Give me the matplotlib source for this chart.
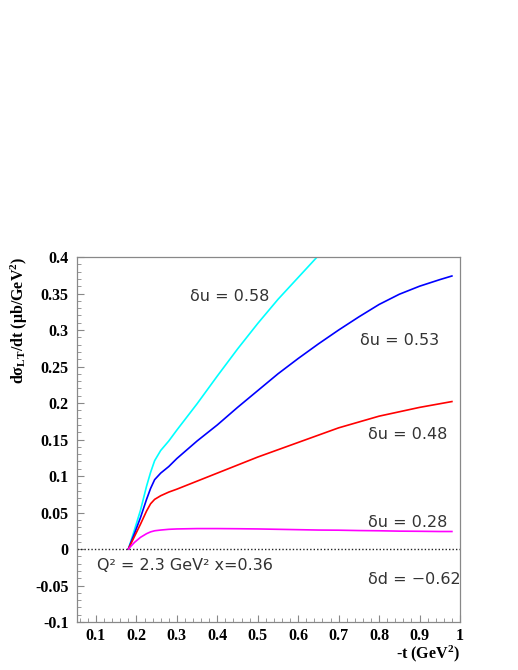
import numpy as np
import matplotlib
matplotlib.use('Agg')
import matplotlib.pyplot as plt
from matplotlib.ticker import MultipleLocator

plt.rcParams['mathtext.fontset'] = 'custom'
plt.rcParams['mathtext.rm'] = 'Liberation Serif:bold'
plt.rcParams['mathtext.bf'] = 'Liberation Serif:bold'
plt.rcParams['mathtext.it'] = 'Liberation Serif:bold:italic'

# -t values (GeV^2)
t = [0.18, 0.195, 0.21, 0.225, 0.235, 0.245, 0.26, 0.28, 0.30, 0.35, 0.40, 0.45,
     0.50, 0.55, 0.60, 0.65, 0.70, 0.75, 0.80, 0.85, 0.90, 0.95, 0.98]

# d sigma_LT / dt for different delta u
du058 = [0, 0.026, 0.053, 0.086, 0.105, 0.121, 0.135, 0.148, 0.163, 0.199, 0.237, 0.274,
         0.309, 0.342, 0.372, 0.402, 0.43, 0.46, 0.49, 0.52, 0.55, 0.58, 0.60]
du053 = [0, 0.021, 0.043, 0.068, 0.083, 0.095, 0.104, 0.113, 0.124, 0.148, 0.170, 0.194,
         0.217, 0.240, 0.261, 0.281, 0.300, 0.318, 0.335, 0.349, 0.360, 0.369, 0.374]
du048 = [0, 0.017, 0.034, 0.052, 0.062, 0.068, 0.073, 0.078, 0.082, 0.093, 0.104, 0.115,
         0.126, 0.136, 0.146, 0.156, 0.166, 0.174, 0.182, 0.188, 0.194, 0.199, 0.202]
du028 = [0, 0.009, 0.016, 0.021, 0.0235, 0.025, 0.026, 0.027, 0.0275, 0.028, 0.028, 0.0278,
         0.0275, 0.027, 0.0265, 0.026, 0.0258, 0.0253, 0.025, 0.0245, 0.0243, 0.024, 0.024]

labels = ['\u03b4u = 0.58', '\u03b4u = 0.53', '\u03b4u = 0.48', '\u03b4u = 0.28']
label_pos = [(0.332, 0.346), (0.753, 0.286), (0.773, 0.157), (0.773, 0.036)]

fig = plt.figure(figsize=(5.18, 6.70), dpi=100)
ax = fig.add_axes([0.1486, 0.0716, 0.7394, 0.5448])

ax.plot(t, du058, color='#00ffff', lw=1.2)
ax.plot(t, du053, color='#0000ff', lw=1.2)
ax.plot(t, du048, color='#ff0000', lw=1.2)
ax.plot(t, du028, color='#ff00ff', lw=1.2)
ax.axhline(0, color='#222222', lw=1.0, ls=(0, (1, 1.5)))

txt = dict(fontsize=11.5, color='#333333', family='DejaVu Sans', va='center', ha='left')
for s, (x, y) in zip(labels, label_pos):
    ax.text(x, y, s, **txt)
ax.text(0.102, -0.022, 'Q\u00b2 = 2.3 GeV\u00b2 x=0.36', **txt)
ax.text(0.773, -0.042, '\u03b4d = \u22120.62', **txt)

ax.set_xlim(0.053, 1.0)
ax.set_ylim(-0.1, 0.4)
ax.xaxis.set_major_locator(MultipleLocator(0.1))
ax.xaxis.set_minor_locator(MultipleLocator(0.02))
ax.yaxis.set_major_locator(MultipleLocator(0.05))
ax.yaxis.set_minor_locator(MultipleLocator(0.01))
ax.tick_params(which='both', direction='in', color='#888888', top=False, right=False)
ax.tick_params(which='major', length=5, width=0.8)
ax.tick_params(axis='x', which='major', pad=4)
ax.tick_params(axis='y', which='major', pad=6)
ax.tick_params(which='minor', length=3, width=0.6)
for sp in ax.spines.values():
    sp.set_color('#888888')
    sp.set_linewidth(0.9)

xt = [0.1, 0.2, 0.3, 0.4, 0.5, 0.6, 0.7, 0.8, 0.9, 1.0]
ax.set_xticks(xt)
ax.set_xticklabels(['0.1', '0.2', '0.3', '0.4', '0.5', '0.6', '0.7', '0.8', '0.9', '1'])
yt = [-0.1, -0.05, 0, 0.05, 0.1, 0.15, 0.2, 0.25, 0.3, 0.35, 0.4]
ax.set_yticks(yt)
ax.set_yticklabels(['-0.1', '-0.05', '0', '0.05', '0.1', '0.15', '0.2', '0.25', '0.3', '0.35', '0.4'])
for lab in ax.get_xticklabels() + ax.get_yticklabels():
    lab.set_fontfamily('Liberation Serif')
    lab.set_fontweight('bold')
    lab.set_fontsize(11.5)

ax.set_xlabel('-t (GeV$^{\\rm 2}$)', fontsize=11.5, fontweight='bold', family='Liberation Serif',
              loc='right', labelpad=0)
ax.set_ylabel('d\u03c3$_{\\rm LT}$/dt (\u03bcb/GeV$^{\\rm 2}$)', fontsize=11.5, fontweight='bold',
              family='Liberation Serif', loc='top', labelpad=4)

fig.savefig('out.png', dpi=100)
